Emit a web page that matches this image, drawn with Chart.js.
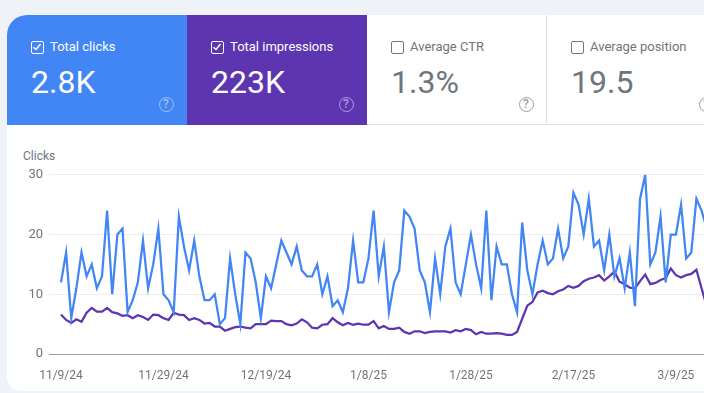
<!DOCTYPE html>
<html>
<head>
<meta charset="utf-8">
<script src="https://cdn.jsdelivr.net/npm/chart.js@4"></script>
<style>
	html, body { margin: 0; padding: 0; width: 704px; height: 393px; overflow: hidden; background: #eff3f8; font-family: Roboto, sans-serif; }
	#card { position: absolute; left: 7px; top: 15px; width: 720px; height: 376px; background: #fff; border-radius: 20px 0 0 14px; overflow: hidden; }
	.tile { position: absolute; top: 0; width: 180px; height: 110px; box-sizing: border-box; color: #70757a; border-bottom: 1px solid #e0e0e0; }
	.tile.on { color: #fff; border-bottom: 0; }
	#t1 { left: 0; background: #4285f4; }
	#t2 { left: 180px; background: #5e35b1; }
	#t3 { left: 360px; border-right: 1px solid #e0e0e0; }
	#t4 { left: 540px; }
	.box { position: absolute; left: 24px; top: 26px; width: 13px; height: 13px; box-sizing: border-box; border: 1.5px solid #70757a; border-radius: 2px; }
	.on .box { border-color: #fff; }
	.box svg { position: absolute; left: 0; top: 0; }
	.name { position: absolute; left: 43px; top: 24px; font-size: 13px; line-height: 16px; white-space: nowrap; }
	.num { position: absolute; left: 24px; top: 48px; font-size: 32px; line-height: 38px; white-space: nowrap; }
	.help { position: absolute; left: 151.5px; top: 82px; width: 15px; height: 15px; box-sizing: border-box; border: 1.5px solid #9e9e9e; border-radius: 50%; font-size: 12px; line-height: 12px; text-align: center; color: #9e9e9e; font-weight: 500; }
	.on .help { border-color: rgba(255,255,255,.5); color: rgba(255,255,255,.5); }
	#clicksLabel { position: absolute; left: 23px; top: 148px; font-size: 12px; line-height: 16px; color: #70757a; }
	#chart { position: absolute; left: 0; top: 161px; }
</style>
</head>
<body>
<div id="card">
	<div class="tile on" id="t1">
		<div class="box"><svg width="10" height="10" viewBox="0 0 10 10"><path d="M1.5 5.2 L4 7.5 L8.5 2" fill="none" stroke="#fff" stroke-width="1.5"/></svg></div>
		<div class="name">Total clicks</div><div class="num">2.8K</div><div class="help">?</div>
	</div>
	<div class="tile on" id="t2">
		<div class="box"><svg width="10" height="10" viewBox="0 0 10 10"><path d="M1.5 5.2 L4 7.5 L8.5 2" fill="none" stroke="#fff" stroke-width="1.5"/></svg></div>
		<div class="name">Total impressions</div><div class="num">223K</div><div class="help">?</div>
	</div>
	<div class="tile" id="t3">
		<div class="box"></div>
		<div class="name">Average CTR</div><div class="num">1.3%</div><div class="help">?</div>
	</div>
	<div class="tile" id="t4">
		<div class="box"></div>
		<div class="name">Average position</div><div class="num">19.5</div><div class="help">?</div>
	</div>
</div>
<div id="clicksLabel">Clicks</div>
<canvas id="chart" width="720" height="232"></canvas>
<script>
const clicks = [12,17,6,11,17,13,15,11,13,24,10,20,21,7,9,12,19,11,15,21,
	10,9,7,23,18,14,19,13,9,9,10,5,6,16,10,5,17,16,12,6,
	13,11,15,19,17,15,18,14,13,13,15,10,13,8,9,7,11,19,12,12,
	16,24,13,18,7,12,14,24,23,21,14,12,7,16,10,18,21,12,10,15,
	20,15,11,24,9,18,15,15,10,7,22,14,10,15,19,15,16,21,16,18,
	27,25,20,26,18,19,14,20,13,16,11,17,8,26,30,15,17,23,12,20,
	20,25,16,17,26,24,21];
const impressions = [6.6,5.7,5.2,5.8,5.4,6.9,7.7,7.1,7.1,7.7,7.0,6.8,6.4,6.5,6.0,6.5,6.2,5.7,6.6,6.5,
	6.0,5.7,6.9,6.6,6.5,5.7,6.0,5.7,5.1,5.2,4.6,4.6,3.9,4.2,4.5,4.6,4.4,4.3,5.0,5.0,
	5.0,5.6,5.5,5.5,5.0,4.8,5.1,5.8,5.3,4.4,4.3,4.9,5.0,6.0,5.3,4.8,5.2,4.9,5.1,4.9,
	4.9,5.5,4.3,4.7,4.2,4.2,4.4,3.7,3.4,3.8,3.8,3.5,3.7,3.8,3.8,3.8,3.6,4.0,3.8,4.2,
	4.0,3.3,3.7,3.4,3.4,3.5,3.4,3.2,3.2,3.7,5.9,8.1,8.7,10.3,10.6,10.2,10.0,10.5,10.8,11.4,
	11.1,11.4,12.2,12.6,12.8,13.2,12.3,13.0,13.8,12.1,11.7,11.1,11.0,12.2,13.3,11.7,11.9,12.4,12.7,14.3,
	13.2,12.8,13.2,13.4,14.1,11.0,8.0];
const tickDays = [0,20,40,60,80,100,120];
const tickDates = ['11/9/24','11/29/24','12/19/24','1/8/25','1/28/25','2/17/25','3/9/25'];

function points(values) {
	return values.map((v, i) => ({ x: i, y: v }));
}

new Chart(document.getElementById('chart'), {
	type: 'line',
	data: {
		datasets: [
			{ label: 'Clicks', data: points(clicks), borderColor: '#4285f4', borderWidth: 2.25, pointRadius: 0, tension: 0 },
			{ label: 'Impressions', data: points(impressions), borderColor: '#5e35b1', borderWidth: 2.25, pointRadius: 0, tension: 0 }
		]
	},
	options: {
		responsive: false,
		animation: false,
		layout: { padding: { top: 12, left: 0, right: 0, bottom: 0 } },
		plugins: { legend: { display: false }, tooltip: { enabled: false } },
		scales: {
			x: {
				type: 'linear',
				min: -2.34,
				max: 128.6,
				afterBuildTicks: (axis) => { axis.ticks = tickDays.map((d) => ({ value: d })); },
				afterFit: (axis) => { axis.height = 39; },
				grid: { display: false },
				border: { display: false },
				ticks: {
					maxRotation: 0,
					autoSkip: false,
					padding: 7,
					color: '#70757a',
					font: { family: 'Roboto', size: 12 },
					callback: (value) => tickDates[tickDays.indexOf(value)]
				}
			},
			y: {
				min: 0,
				max: 30,
				afterFit: (axis) => { axis.width = 49; },
				border: { display: false },
				grid: {
					drawTicks: false,
					lineWidth: 1,
					color: (ctx) => ctx.tick.value === 0 ? '#9e9e9e' : '#eeeeee'
				},
				ticks: {
					stepSize: 10,
					padding: 6,
					color: '#70757a',
					font: { family: 'Roboto', size: 13 }
				}
			}
		}
	}
});
</script>
</body>
</html>
